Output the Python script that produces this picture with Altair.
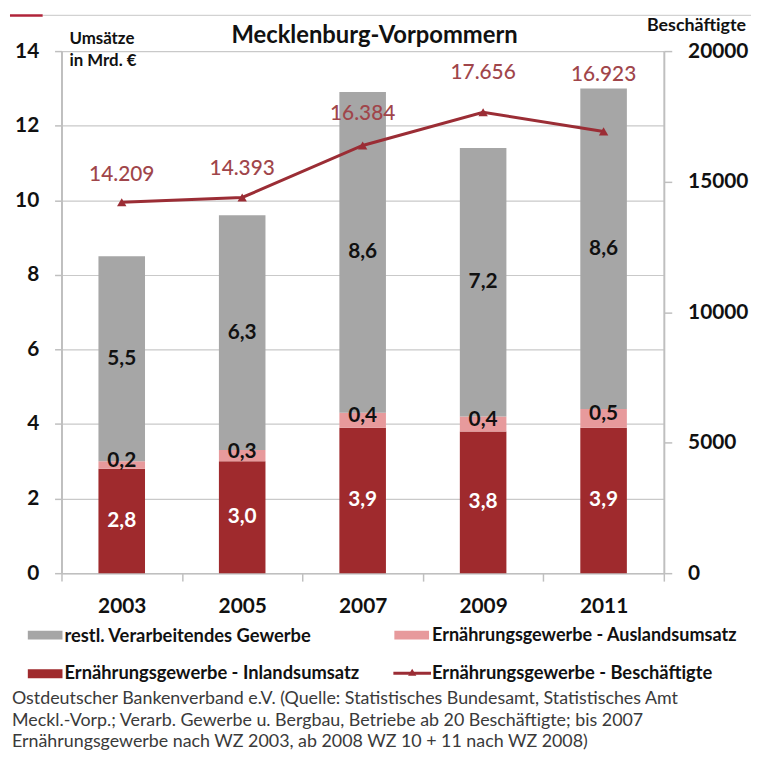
import altair as alt
import pandas as pd

# ---------------- data ----------------
years = ["2003", "2005", "2007", "2009", "2011"]
inland = [2.8, 3.0, 3.9, 3.8, 3.9]        # Ernährungsgewerbe - Inlandsumsatz (Mrd. €)
ausland = [0.2, 0.3, 0.4, 0.4, 0.5]       # Ernährungsgewerbe - Auslandsumsatz
rest = [5.5, 6.3, 8.6, 7.2, 8.6]          # restl. Verarbeitendes Gewerbe
beschaeftigte = [14209, 14393, 16384, 17656, 16923]

seg_names = [
    "Ernährungsgewerbe - Inlandsumsatz",
    "Ernährungsgewerbe - Auslandsumsatz",
    "restl. Verarbeitendes Gewerbe",
]
seg_values = [inland, ausland, rest]

# ---------------- styles ----------------
FONT = "Lato"
C_IN = "#9F2A2D"
C_AUS = "#E79A9C"
C_REST = "#A6A6A6"
C_LINE = "#9B2D35"
C_LLAB = "#A0454A"
C_AXIS = "#BFBFBF"
C_GRID = "#C9C9C9"

rows = []
for i, y in enumerate(years):
    lower = 0.0
    for name, vals in zip(seg_names, seg_values):
        v = vals[i]
        rows.append({
            "Jahr": y, "Segment": name, "Wert": v,
            "lower": lower, "upper": lower + v, "mid": lower + v / 2,
            "label": f"{v:.1f}".replace(".", ","),
        })
        lower += v
bars_df = pd.DataFrame(rows)

line_df = pd.DataFrame({
    "Jahr": years,
    "B": beschaeftigte,
    "label": [f"{v:,}".replace(",", ".") for v in beschaeftigte],
})

x_enc = alt.X(
    "Jahr:N", sort=years, title=None,
    scale=alt.Scale(paddingInner=0, paddingOuter=0),
    axis=alt.Axis(
        labelAngle=0, labelFont=FONT, labelFontSize=21, labelFontWeight="bold",
        labelColor="#111111", labelPadding=15, domainColor=C_AXIS, domainWidth=1.5,
        tickColor=C_AXIS, tickSize=8, tickWidth=1.5, tickBand="extent", grid=False,
    ),
)

y_left_scale = alt.Scale(domain=[0, 14], nice=False, zero=True)
y_right_scale = alt.Scale(domain=[0, 20000], nice=False, zero=True)

bars = alt.Chart(bars_df).mark_bar(size=47).encode(
    x=x_enc,
    y=alt.Y(
        "lower:Q", scale=y_left_scale, title=None,
        axis=alt.Axis(
            values=[0, 2, 4, 6, 8, 10, 12, 14], grid=True, gridColor=C_GRID,
            gridWidth=1.2, domainColor=C_AXIS, domainWidth=2, tickColor=C_AXIS,
            tickSize=7, tickWidth=1.5, labelFont=FONT, labelFontSize=21,
            labelFontWeight="bold", labelColor="#111111", labelPadding=16,
            orient="left",
        ),
    ),
    y2="upper:Q",
    color=alt.Color("Segment:N", scale=alt.Scale(domain=seg_names, range=[C_IN, C_AUS, C_REST]), legend=None),
)

def seg_text(name, color, dy=0):
    return alt.Chart(bars_df).transform_filter(
        alt.datum.Segment == name
    ).mark_text(
        font=FONT, fontSize=21, fontWeight="bold", color=color, baseline="middle", dy=dy
    ).encode(
        x=alt.X("Jahr:N", sort=years),
        y=alt.Y("mid:Q", scale=y_left_scale),
        text="label:N",
    )

left = alt.layer(
    bars,
    seg_text(seg_names[0], "white"),
    seg_text(seg_names[1], "#111111", -4),
    seg_text(seg_names[2], "#111111"),
)

line = alt.Chart(line_df).mark_line(color=C_LINE, strokeWidth=3).encode(
    x=alt.X("Jahr:N", sort=years),
    y=alt.Y(
        "B:Q", scale=y_right_scale, title=None,
        axis=alt.Axis(
            orient="right", values=[0, 5000, 10000, 15000, 20000], format="d",
            grid=False, domainColor=C_AXIS, domainWidth=2, tickColor=C_AXIS,
            tickSize=8, tickWidth=1.5, labelFont=FONT, labelFontSize=21,
            labelFontWeight="bold", labelColor="#111111", labelPadding=16,
        ),
    ),
)
pts = alt.Chart(line_df).mark_point(
    shape="triangle-up", filled=True, size=90, color=C_LINE, opacity=1
).encode(x=alt.X("Jahr:N", sort=years), y=alt.Y("B:Q", scale=y_right_scale))

label_dy = {"2003": -27, "2005": -29, "2007": -32, "2009": -40, "2011": -57}
line_labels = [
    alt.Chart(line_df).transform_filter(alt.datum.Jahr == yr).mark_text(
        font=FONT, fontSize=21, fontWeight=500, color=C_LLAB, baseline="middle", dy=d
    ).encode(x=alt.X("Jahr:N", sort=years), y=alt.Y("B:Q", scale=y_right_scale), text="label:N")
    for yr, d in label_dy.items()
]
right = alt.layer(line, pts, *line_labels)

# ---------------- decorations (titles, legend, source) ----------------
one = alt.Data(values=[{"a": 1}])

def txt(s, x, y, size, weight="normal", align="left", color="#111111"):
    return alt.Chart(one).mark_text(
        text=s, font=FONT, fontSize=size, fontWeight=weight, align=align,
        baseline="middle", color=color
    ).encode(x=alt.value(x), y=alt.value(y))

def box(x1, x2, y1, y2, color):
    return alt.Chart(one).mark_rect(color=color).encode(
        x=alt.value(x1), x2=alt.value(x2), y=alt.value(y1), y2=alt.value(y2)
    )

def hline(x1, x2, y, color, w):
    return alt.Chart(one).mark_rule(color=color, strokeWidth=w).encode(
        x=alt.value(x1), x2=alt.value(x2), y=alt.value(y)
    )

SRC = "#3A3A3A"
# origin of plot area is page (62, 48)
deco = [
    hline(-19, 700, -36, "#D2D2D2", 1.2),
    hline(-52, -19, -36, "#B0243A", 2.5),
    txt("Mecklenburg-Vorpommern", 316, -15, 24, "bold", "center"),
    txt("Umsätze", 8, -12, 17, "bold"),
    txt("in Mrd. €", 8, 10, 17, "bold"),
    txt("Beschäftigte", 641, -25, 18, "bold", "center"),
    # legend row 1
    box(-34, 1, 585, 594, C_REST),
    txt("restl. Verarbeitendes Gewerbe", 3, 590, 18.5, "bold"),
    box(336, 371, 585, 594, C_AUS),
    txt("Ernährungsgewerbe - Auslandsumsatz", 374, 590, 18.2, "bold"),
    # legend row 2
    box(-34, 1, 624, 633, C_IN),
    txt("Ernährungsgewerbe - Inlandsumsatz", 3, 628, 18.5, "bold"),
    hline(335, 373, 628, C_LINE, 3),
    alt.Chart(one).mark_point(shape="triangle-up", filled=True, size=70, color=C_LINE, opacity=1)
        .encode(x=alt.value(354), y=alt.value(627)),
    txt("Ernährungsgewerbe - Beschäftigte", 374, 628, 18.5, "bold"),
    # source
    txt("Ostdeutscher Bankenverband e.V. (Quelle: Statistisches Bundesamt, Statistisches Amt", -50, 654, 18, color=SRC),
    txt("Meckl.-Vorp.; Verarb. Gewerbe u. Bergbau, Betriebe ab 20 Beschäftigte; bis 2007", -50, 676, 18, color=SRC),
    txt("Ernährungsgewerbe nach WZ 2003, ab 2008 WZ 10 + 11 nach WZ 2008)", -50, 697, 18, color=SRC),
]

chart = alt.layer(left, right, *deco).resolve_scale(y="independent").properties(
    width=608, height=527,
    padding={"left": 54, "top": 40, "right": 88, "bottom": 177},
    autosize=alt.AutoSizeParams(type="none"),
    background="white",
).configure_view(strokeWidth=0)

chart.save("out.html", embed_options={"renderer": "svg", "actions": False})
